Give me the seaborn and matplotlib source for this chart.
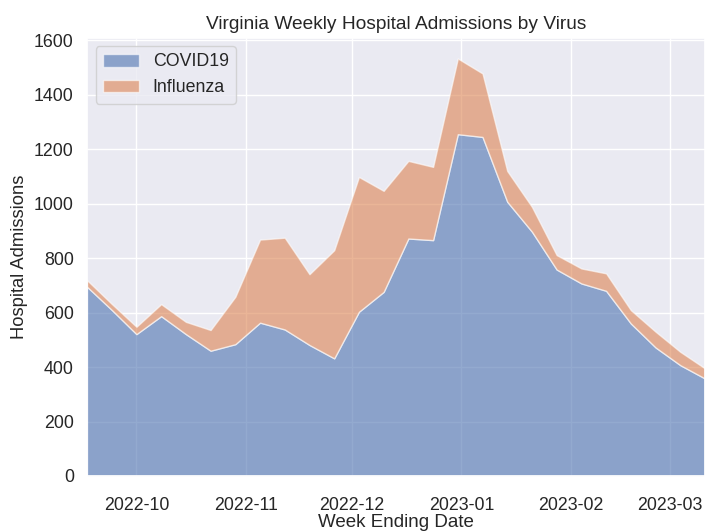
import pandas as pd
import numpy as np
import matplotlib
matplotlib.use("Agg")
import matplotlib.pyplot as plt
import matplotlib.dates as mdates
import seaborn as sns

# weekly data
week_ending = pd.date_range("2022-09-17", "2023-03-11", freq="7D")
covid = [695, 610, 521, 587, 521, 460, 484, 563, 538, 481, 432, 603, 676,
         872, 866, 1255, 1245, 1007, 897, 758, 707, 680, 560, 472, 407, 358]
total = [719, 632, 548, 631, 566, 536, 658, 868, 875, 741, 829, 1098, 1047,
         1157, 1135, 1533, 1478, 1120, 988, 811, 762, 744, 609, 530, 456, 395]
influenza = [t - c for t, c in zip(total, covid)]
series_names = ["COVID19", "Influenza"]

df = pd.DataFrame({"date": week_ending, "COVID19": covid, "Influenza": influenza})

sns.set_theme(style="darkgrid", font="Liberation Sans")
plt.rcParams["font.family"] = ["Liberation Sans", "DejaVu Sans"]
colors = sns.color_palette("deep", 2)

fig = plt.figure(figsize=(7.05, 5.31), dpi=100)
ax = fig.add_axes([87 / 705, 55 / 531, 1 - 87 / 705, 438.5 / 531])

ax.stackplot(df["date"], df["COVID19"], df["Influenza"], labels=series_names,
             colors=colors, alpha=0.6, edgecolor="white", linewidth=1)

ax.set_xlim(df["date"].iloc[0], df["date"].iloc[-1])
ax.set_ylim(0, 1610)
ax.set_yticks(range(0, 1601, 200))
ax.xaxis.set_major_locator(mdates.MonthLocator())
ax.xaxis.set_major_formatter(mdates.DateFormatter("%Y-%m"))
ax.tick_params(labelsize=12.8)
ax.tick_params(axis="x", pad=9)

ax.set_title("Virginia Weekly Hospital Admissions by Virus", fontsize=13.8)
ax.set_xlabel("Week Ending Date", fontsize=13.5, labelpad=0)
ax.set_ylabel("Hospital Admissions", fontsize=13.2)
ax.legend(loc="upper left", fontsize=12.8)

fig.savefig("out.png", dpi=100)
